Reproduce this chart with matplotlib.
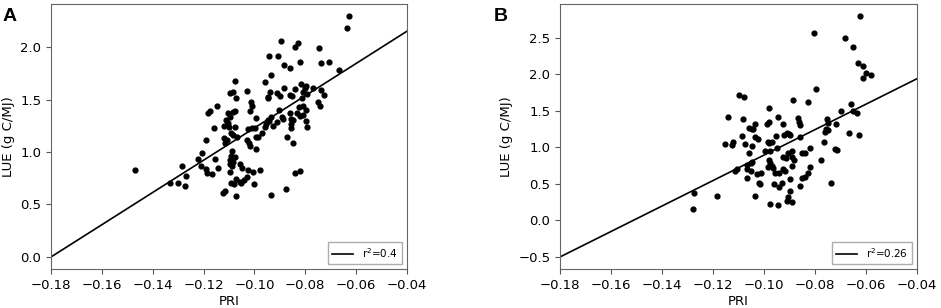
#!/usr/bin/env python3
"""Two scatter panels of LUE against PRI with fitted lines."""

import matplotlib
matplotlib.use("Agg")
import matplotlib.pyplot as plt

# Panel A data (PRI, LUE)
pri_a = [
    -0.0630, -0.0636, -0.0668, -0.0706, -0.0746, -0.0737, -0.0896, -0.0827,
    -0.0840, -0.0942, -0.0909, -0.0883, -0.0860, -0.0820, -0.0933, -0.0959,
    -0.1076, -0.1097, -0.1084, -0.1071, -0.1029, -0.1012, -0.1010, -0.1016,
    -0.0945, -0.0947, -0.0937, -0.0910, -0.0900, -0.0884, -0.0861, -0.0853,
    -0.0840, -0.0818, -0.0798, -0.0802, -0.0807, -0.0812, -0.0792, -0.0769,
    -0.0738, -0.0727, -0.0749, -0.0744, -0.1146, -0.1175, -0.1183, -0.1157,
    -0.1192, -0.1207, -0.1222, -0.1212, -0.1284, -0.1270, -0.1272, -0.1332,
    -0.1302, -0.1470, -0.1156, -0.1142, -0.1189, -0.1186, -0.1168, -0.1122,
    -0.1114, -0.1071, -0.0933, -0.0875, -0.0841, -0.0820, -0.0848, -0.0873,
    -0.1103, -0.1083, -0.1076, -0.1095, -0.1110, -0.1102, -0.1118, -0.1101,
    -0.1075, -0.1091, -0.1084, -0.1068, -0.1120, -0.1107, -0.1115, -0.1088,
    -0.1093, -0.1075, -0.1098, -0.1085, -0.1098, -0.1088, -0.1098, -0.1091,
    -0.1082, -0.1071, -0.1055, -0.1050, -0.1055, -0.1051, -0.1040, -0.1031,
    -0.1027, -0.1004, -0.0979, -0.1003, -0.1027, -0.1010, -0.0998, -0.1028,
    -0.1022, -0.1016, -0.0994, -0.0994, -0.0985, -0.0992, -0.0971, -0.0957,
    -0.0953, -0.0946, -0.0942, -0.0935, -0.0926, -0.0913, -0.0902, -0.0893,
    -0.0889, -0.0862, -0.0857, -0.0856, -0.0849, -0.0855, -0.0831, -0.0822,
    -0.0807, -0.0799, -0.0798, -0.0794, -0.0826, -0.0810,
]
lue_a = [
    2.295, 2.178, 1.778, 1.860, 1.990, 1.844, 2.060, 2.035,
    1.997, 1.917, 1.914, 1.829, 1.800, 1.854, 1.730, 1.667,
    1.673, 1.565, 1.568, 1.511, 1.578, 1.473, 1.441, 1.390,
    1.527, 1.511, 1.575, 1.559, 1.537, 1.610, 1.543, 1.533,
    1.603, 1.651, 1.632, 1.610, 1.571, 1.514, 1.552, 1.613,
    1.590, 1.546, 1.476, 1.435, 1.438, 1.387, 1.371, 1.225,
    1.117, 0.994, 0.937, 0.863, 0.870, 0.771, 0.679, 0.702,
    0.705, 0.832, 0.937, 0.848, 0.835, 0.800, 0.790, 0.610,
    0.625, 0.581, 0.590, 0.651, 0.803, 0.819, 1.089, 1.140,
    1.368, 1.378, 1.387, 1.333, 1.302, 1.279, 1.244, 1.238,
    1.238, 1.181, 1.162, 1.143, 1.133, 1.111, 1.089, 1.010,
    0.959, 0.949, 0.927, 0.908, 0.883, 0.863, 0.813, 0.708,
    0.695, 0.740, 0.883, 0.851, 0.717, 0.708, 0.730, 0.759,
    0.832, 0.813, 0.829, 0.695, 1.219, 1.225, 1.225, 1.117,
    1.086, 1.054, 1.324, 1.143, 1.143, 1.032, 1.181, 1.238,
    1.267, 1.308, 1.292, 1.333, 1.248, 1.289, 1.400, 1.333,
    1.314, 1.371, 1.314, 1.270, 1.302, 1.229, 1.375, 1.346,
    1.349, 1.397, 1.295, 1.235, 1.429, 1.435,
]

# Panel B data (PRI, LUE)
pri_b = [
    -0.0622, -0.0802, -0.0681, -0.0649, -0.0632, -0.0609, -0.0598, -0.0581,
    -0.0611, -0.0794, -0.0887, -0.0827, -0.0656, -0.0696, -0.0651, -0.0636,
    -0.1096, -0.1078, -0.1142, -0.1080, -0.0978, -0.0946, -0.0978, -0.0989,
    -0.1035, -0.0926, -0.0867, -0.0863, -0.0751, -0.0747, -0.0718, -0.0755,
    -0.0750, -0.0759, -0.0664, -0.0628, -0.1057, -0.1048, -0.1041, -0.1087,
    -0.1035, -0.1023, -0.1152, -0.1121, -0.1125, -0.1073, -0.1046, -0.1060,
    -0.0985, -0.0978, -0.0969, -0.0953, -0.0922, -0.0910, -0.0901, -0.0896,
    -0.0858, -0.0997, -0.0976, -0.0904, -0.0890, -0.0923, -0.0914, -0.0890,
    -0.0881, -0.0849, -0.0839, -0.0820, -0.0764, -0.0721, -0.0714, -0.0776,
    -0.0981, -0.0975, -0.0969, -0.0963, -0.0985, -0.0955, -0.0939, -0.0923,
    -0.0917, -0.0890, -0.1067, -0.1067, -0.1066, -0.1051, -0.1051, -0.1045,
    -0.1010, -0.1028, -0.1018, -0.1016, -0.1036, -0.1113, -0.1106, -0.1182,
    -0.1276, -0.1279, -0.0977, -0.0944, -0.0960, -0.0942, -0.0930, -0.0897,
    -0.0897, -0.0906, -0.0909, -0.0889, -0.0859, -0.0850, -0.0840, -0.0825,
    -0.0819, -0.0738, -0.0860, -0.0949,
]
lue_b = [
    2.800, 2.564, 2.505, 2.382, 2.154, 2.117, 2.022, 1.995,
    1.954, 1.803, 1.648, 1.626, 1.594, 1.503, 1.503, 1.475,
    1.721, 1.694, 1.412, 1.384, 1.544, 1.412, 1.343, 1.316,
    1.316, 1.321, 1.398, 1.352, 1.384, 1.334, 1.316, 1.248,
    1.234, 1.211, 1.202, 1.175, 1.261, 1.248, 1.248, 1.152,
    1.138, 1.120, 1.043, 1.070, 1.029, 1.043, 1.020, 0.924,
    1.079, 1.056, 1.070, 1.161, 1.170, 1.193, 1.184, 1.170,
    1.148, 0.956, 0.956, 0.929, 0.956, 0.874, 0.856, 0.870,
    0.833, 0.920, 0.924, 0.988, 1.075, 0.979, 0.970, 0.829,
    0.829, 0.783, 0.751, 0.719, 0.738, 0.647, 0.647, 0.701,
    0.683, 0.751, 0.765, 0.710, 0.587, 0.683, 0.783, 0.801,
    0.656, 0.633, 0.510, 0.496, 0.328, 0.683, 0.701, 0.337,
    0.382, 0.159, 0.228, 0.205, 0.501, 0.460, 0.519, 0.565,
    0.405, 0.319, 0.260, 0.246, 0.478, 0.583, 0.601, 0.656,
    0.738, 0.510, 1.302, 0.988,
]

# fitted lines: (slope, intercept)
fit_a = (15.36, 2.765)
fit_b = (17.43, 2.637)
r2_labels = ["r$^2$=0.4", "r$^2$=0.26"]
panel_letters = ["A", "B"]
x_range = [-0.18, -0.04]

fig = plt.figure(figsize=(9.41, 3.08), dpi=100)
ax_a = fig.add_axes([0.0542, 0.1266, 0.3783, 0.8604])
ax_b = fig.add_axes([0.5951, 0.1266, 0.3791, 0.8604])

panels = [
    (ax_a, pri_a, lue_a, fit_a, r2_labels[0]),
    (ax_b, pri_b, lue_b, fit_b, r2_labels[1]),
]
for ax, x, y, fit, lab in panels:
    ax.scatter(x, y, s=12, color="black", zorder=3)
    line_y = [fit[0] * v + fit[1] for v in x_range]
    ax.plot(x_range, line_y, color="black", lw=1.2, label=lab)
    ax.set_xlim(x_range)
    ax.set_xticks([-0.18, -0.16, -0.14, -0.12, -0.10, -0.08, -0.06, -0.04])
    ax.tick_params(labelsize=9.5, color="#555555")
    for sp in ax.spines.values():
        sp.set_color("#666666")
    ax.set_xlabel("PRI", fontsize=9.5, labelpad=2)
    ax.set_ylabel("LUE (g C/MJ)", fontsize=9.5)
    ax.legend(loc="lower right", fontsize=7.5, handlelength=2,
              fancybox=False, edgecolor="#999999")

ax_a.set_yticks([0.0, 0.5, 1.0, 1.5, 2.0])
ax_b.set_yticks([-0.5, 0.0, 0.5, 1.0, 1.5, 2.0, 2.5])

fig.text(0.003, 0.975, panel_letters[0], fontsize=14, fontweight="bold",
         family="Liberation Sans", va="top")
fig.text(0.525, 0.975, panel_letters[1], fontsize=14, fontweight="bold",
         family="Liberation Sans", va="top")

fig.savefig("out.png", dpi=100)
